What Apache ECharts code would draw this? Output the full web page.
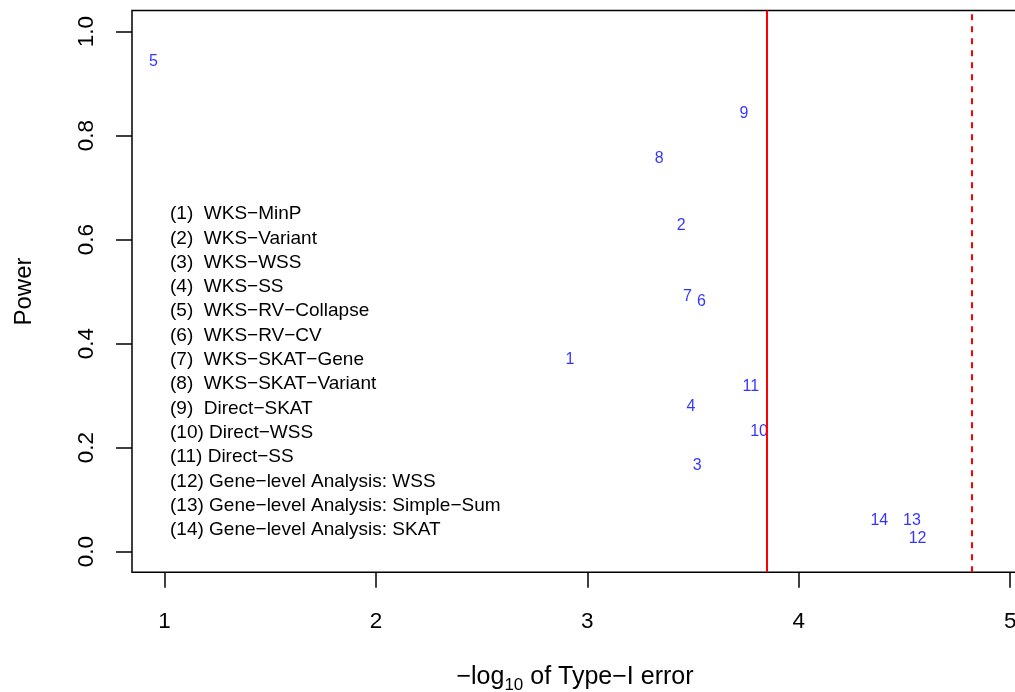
<!DOCTYPE html>
<html>
<head>
<meta charset="utf-8">
<script src="https://cdn.jsdelivr.net/npm/echarts@6/dist/echarts.min.js"></script>
<style>html,body{margin:0;padding:0;background:#fff;}#chart{width:1015px;height:692px;}</style>
</head>
<body>
<div id="chart"></div>
<script>
// ---- data ----
const pointIds = ['1','2','3','4','5','6','7','8','9','10','11','12','13','14'];
const typeIError = [2.918, 3.444, 3.520, 3.490, 0.948, 3.539, 3.473, 3.340, 3.741, 3.812, 3.773, 4.562, 4.535, 4.381];
const power =      [0.373, 0.630, 0.168, 0.281, 0.946, 0.483, 0.494, 0.758, 0.845, 0.234, 0.321, 0.028, 0.063, 0.063];
const solidLineX = 3.848;
const dashedLineX = 4.817;
const xTicks = [1, 2, 3, 4, 5];
const yTicks = [0.0, 0.2, 0.4, 0.6, 0.8, 1.0];
const legendLines = [
  '(1)  WKS\u2212MinP',
  '(2)  WKS\u2212Variant',
  '(3)  WKS\u2212WSS',
  '(4)  WKS\u2212SS',
  '(5)  WKS\u2212RV\u2212Collapse',
  '(6)  WKS\u2212RV\u2212CV',
  '(7)  WKS\u2212SKAT\u2212Gene',
  '(8)  WKS\u2212SKAT\u2212Variant',
  '(9)  Direct\u2212SKAT',
  '(10) Direct\u2212WSS',
  '(11) Direct\u2212SS',
  '(12) Gene\u2212level Analysis: WSS',
  '(13) Gene\u2212level Analysis: Simple\u2212Sum',
  '(14) Gene\u2212level Analysis: SKAT'
];
const xTitle = '\u2212log';
const xTitleSub = '10';
const xTitleRest = ' of Type\u2212I error';
const yTitle = 'Power';

// ---- chart ----
const FONT = '"Liberation Sans", Arial, Helvetica, sans-serif';
const chart = echarts.init(document.getElementById('chart'), null, {renderer: 'canvas'});

const points = typeIError.map((x, i) => [x, power[i], pointIds[i]]);

const legendGraphics = legendLines.map((t, i) => ({
  type: 'text',
  left: 170,
  top: 204.5 + i * 24.3,
  style: {text: t, fill: '#000', font: '19px ' + FONT}
}));

chart.setOption({
  animation: false,
  backgroundColor: '#fff',
  grid: {
    left: 132, top: 10.5, width: 893, bottom: 692 - 572.3,
    outerBoundsMode: 'none', containLabel: false,
    show: true, borderColor: '#000', borderWidth: 1.5, backgroundColor: 'transparent'
  },
  xAxis: {
    type: 'value',
    min: 0.846, max: 5.070,
    axisLine: {show: false, onZero: false},
    splitLine: {show: false},
    axisTick: {show: true, inside: false, length: 15.5, customValues: xTicks, lineStyle: {color: '#000', width: 1.5}},
    axisLabel: {show: true, customValues: xTicks, margin: 38, color: '#000', fontSize: 22.5, fontFamily: FONT,
      formatter: v => String(v)}
  },
  yAxis: {
    type: 'value',
    min: -0.0396, max: 1.0404,
    axisLine: {show: false, onZero: false},
    splitLine: {show: false},
    axisTick: {show: true, inside: false, length: 16, customValues: yTicks, lineStyle: {color: '#000', width: 1.5}},
    axisLabel: {show: true, customValues: yTicks, rotate: 90, margin: 34, color: '#000', fontSize: 22.5, fontFamily: FONT,
      formatter: v => v.toFixed(1)}
  },
  series: [{
    type: 'scatter',
    data: points,
    symbolSize: 0.1,
    itemStyle: {color: 'transparent'},
    label: {
      show: true, position: 'inside', offset: [0, 1.5],
      formatter: p => p.data[2],
      color: '#0000FF', fontSize: 16, fontFamily: FONT
    },
    markLine: {
      silent: true,
      symbol: ['none', 'none'],
      label: {show: false},
      data: [
        {xAxis: solidLineX, lineStyle: {color: '#FF0000', width: 2, type: 'solid'}},
        {xAxis: dashedLineX, lineStyle: {color: '#FF0000', width: 2, type: [6, 6]}}
      ]
    }
  }],
  graphic: [
    ...legendGraphics,
    {
      type: 'text',
      x: 575, y: 677.5,
      style: {
        text: xTitle + '{sub|' + xTitleSub + '}' + xTitleRest,
        fill: '#000', font: '25px ' + FONT, align: 'center', verticalAlign: 'middle',
        rich: {sub: {fontSize: 17, fontFamily: FONT, padding: [15, 0, 0, 0], fill: '#000'}}
      }
    },
    {
      type: 'text',
      x: 24, y: 291.5,
      rotation: Math.PI / 2,
      style: {text: yTitle, fill: '#000', font: '24px ' + FONT, align: 'center', verticalAlign: 'middle'}
    }
  ]
});
</script>
</body>
</html>
